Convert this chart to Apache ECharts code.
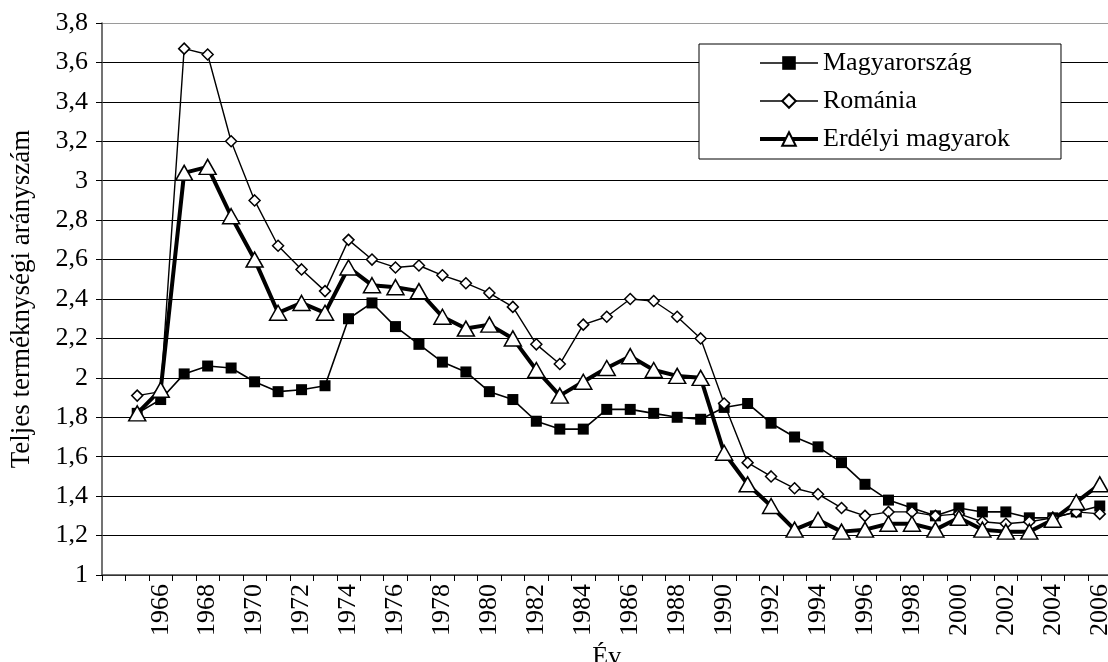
<!DOCTYPE html>
<html><head><meta charset="utf-8">
<script src="https://cdn.jsdelivr.net/npm/echarts@6/dist/echarts.min.js"></script>
<style>html,body{margin:0;padding:0;background:#fff}#c{width:1108px;height:662px}</style>
</head><body><div id="c"></div>
<script>
const years = ['', '1965','1966','1967','1968','1969','1970','1971','1972','1973','1974','1975','1976','1977','1978','1979','1980','1981','1982','1983','1984','1985','1986','1987','1988','1989','1990','1991','1992','1993','1994','1995','1996','1997','1998','1999','2000','2001','2002','2003','2004','2005','2006'];
const magyarorszag = [null, 1.82,1.89,2.02,2.06,2.05,1.98,1.93,1.94,1.96,2.30,2.38,2.26,2.17,2.08,2.03,1.93,1.89,1.78,1.74,1.74,1.84,1.84,1.82,1.80,1.79,1.85,1.87,1.77,1.70,1.65,1.57,1.46,1.38,1.34,1.30,1.34,1.32,1.32,1.29,1.29,1.32,1.35];
const romania = [null, 1.91,1.93,3.67,3.64,3.20,2.90,2.67,2.55,2.44,2.70,2.60,2.56,2.57,2.52,2.48,2.43,2.36,2.17,2.07,2.27,2.31,2.40,2.39,2.31,2.20,1.87,1.57,1.50,1.44,1.41,1.34,1.30,1.32,1.32,1.30,1.31,1.27,1.26,1.27,1.29,1.32,1.31];
const erdelyi = [null, 1.82,1.94,3.04,3.07,2.82,2.60,2.33,2.38,2.33,2.56,2.47,2.46,2.44,2.31,2.25,2.27,2.20,2.04,1.91,1.98,2.05,2.11,2.04,2.01,2.00,1.62,1.46,1.35,1.23,1.28,1.22,1.23,1.26,1.26,1.23,1.29,1.23,1.22,1.22,1.28,1.37,1.46];
const seriesNames = ['Magyarország', 'Románia', 'Erdélyi magyarok'];
const yTitle = 'Teljes terméknységi arányszám';
const xTitle = 'Év';

const FONT = "'Liberation Serif', 'Times New Roman', serif";
const chart = echarts.init(document.getElementById('c'), null, {renderer: 'canvas'});
const gridColors = [];
for (let i = 0; i < 15; i++) gridColors.push(i === 14 ? '#9a9a9a' : '#000');
chart.setOption({
  animation: false,
  backgroundColor: '#fff',
  grid: {left: 102, top: 23, width: 1009.5, height: 552, containLabel: false, outerBoundsMode: 'none'},
  legend: {
    orient: 'vertical', left: 699, top: 44,
    padding: [6, 51, 7, 59],
    backgroundColor: '#fff', borderColor: '#000', borderWidth: 1, borderRadius: 0,
    itemWidth: 58, itemHeight: 17, itemGap: 12,
    textStyle: {fontFamily: FONT, fontSize: 26, color: '#000', lineHeight: 26},
    data: [
      {name: seriesNames[0], lineStyle: {width: 1.6}},
      {name: seriesNames[1], lineStyle: {width: 1.4}},
      {name: seriesNames[2], lineStyle: {width: 4}}
    ]
  },
  xAxis: {
    type: 'category', data: years, boundaryGap: true,
    axisLine: {show: true, lineStyle: {color: '#444', width: 1.5}},
    axisTick: {show: true, interval: 0, length: 6, lineStyle: {color: '#000'}},
    axisLabel: {interval: 1, rotate: 90, margin: 9, fontFamily: FONT, fontSize: 26, color: '#000'},
    splitLine: {show: false},
    name: xTitle, nameLocation: 'middle', nameGap: 63,
    nameTextStyle: {fontFamily: FONT, fontSize: 26, color: '#000'}
  },
  yAxis: {
    type: 'value', min: 1, max: 3.8, interval: 0.2,
    axisLine: {show: true, lineStyle: {color: '#444', width: 1.5}},
    axisTick: {show: true, length: 6, lineStyle: {color: '#000'}},
    axisLabel: {margin: 14, fontFamily: FONT, fontSize: 26, color: '#000',
      formatter: v => String(Math.round(v * 10) / 10).replace('.', ',')},
    splitLine: {show: true, lineStyle: {color: gridColors, width: 1.2}},
    name: yTitle, nameLocation: 'middle', nameGap: 67, nameRotate: 90,
    nameTextStyle: {fontFamily: FONT, fontSize: 27, color: '#000'}
  },
  series: [
    {name: seriesNames[0], type: 'line', data: magyarorszag, symbol: 'rect', symbolSize: 11,
      showAllSymbol: true,
      lineStyle: {color: '#000', width: 1.6}, itemStyle: {color: '#000', borderColor: '#000', borderWidth: 0}},
    {name: seriesNames[1], type: 'line', data: romania, symbol: 'diamond', symbolSize: [11, 11],
      showAllSymbol: true,
      lineStyle: {color: '#000', width: 1.4}, itemStyle: {color: '#fff', borderColor: '#000', borderWidth: 1.5}},
    {name: seriesNames[2], type: 'line', data: erdelyi, symbol: 'triangle', symbolSize: [17, 15],
      showAllSymbol: true,
      lineStyle: {color: '#000', width: 4}, itemStyle: {color: '#fff', borderColor: '#000', borderWidth: 1.5}}
  ]
});
</script></body></html>
